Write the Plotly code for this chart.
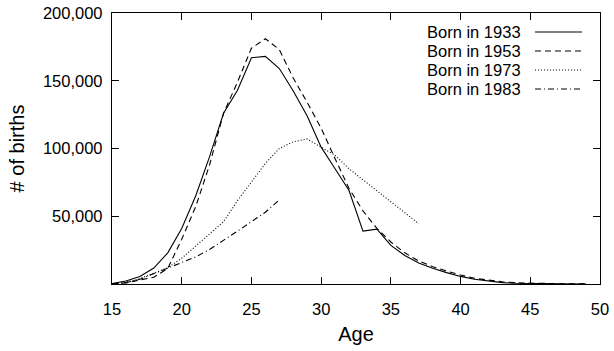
import plotly.graph_objects as go

# Data (births)
ages_1933 = list(range(15, 50))
births_1933 = [300, 2200, 5500, 11800, 23000, 41000, 65000, 94000, 126000, 143000,
               167000, 168000, 159000, 142500, 124000, 101000, 85000, 69000, 39000, 40500,
               28500, 21000, 15500, 11600, 8400, 5600, 3500, 2000, 1000, 500,
               300, 200, 100, 50, 20]

ages_1953 = list(range(15, 50))
births_1953 = [200, 800, 3000, 5000, 11500, 33000, 57000, 88000, 126000, 149000,
               174000, 181000, 173000, 152000, 134000, 115000, 92500, 70500, 54000, 41000,
               31000, 23000, 17000, 12800, 9600, 6600, 4200, 2700, 1600, 900,
               500, 300, 200, 100, 50]

ages_1973 = list(range(15, 38))
births_1973 = [100, 1200, 4000, 8000, 12000, 19000, 28000, 37000, 46000, 61500,
               75000, 89000, 100000, 105000, 107000, 101000, 95000, 85000, 77000, 69000,
               61000, 53000, 44500]

ages_1983 = list(range(15, 28))
births_1983 = [100, 1000, 3500, 7500, 11500, 15500, 20000, 25500, 32000, 39000,
               46000, 53000, 62000]

series_names = ["Born in 1933", "Born in 1953", "Born in 1973", "Born in 1983"]
x_ticks = [15, 20, 25, 30, 35, 40, 45, 50]
y_ticks = [50000, 100000, 150000, 200000]
y_tick_labels = ["50,000", "100,000", "150,000", "200,000"]

dashes = ["solid", "6px,4px", "1px,2px", "6px,3px,1px,3px"]
series = [(ages_1933, births_1933), (ages_1953, births_1953),
          (ages_1973, births_1973), (ages_1983, births_1983)]

FONT = "Liberation Sans, Arial, sans-serif"
FS = 16.5
fig = go.Figure()
for (xs, ys), name, d in zip(series, series_names, dashes):
    fig.add_trace(go.Scatter(x=xs, y=ys, mode="lines", name=name,
                             line=dict(color="black", width=1.1, dash=d),
                             showlegend=False))

# custom gnuplot-style legend: text right-aligned, line sample on the right
L, R, T, B = 111.7, 600.0, 13.0, 284.0
def px(x):
    return (x - L) / (R - L)
def py(y):
    return (B - y) / (B - T)

rows_y = [32, 51, 70, 89]
for name, d, ry in zip(series_names, dashes, rows_y):
    fig.add_annotation(x=px(523), y=py(ry), xref="paper", yref="paper",
                       text=name, showarrow=False, xanchor="right", yanchor="middle",
                       font=dict(family=FONT, size=FS, color="black"))
    fig.add_shape(type="line", xref="paper", yref="paper",
                  x0=px(535), x1=px(582), y0=py(ry), y1=py(ry),
                  line=dict(color="black", width=1.1, dash=d))

fig.update_layout(
    width=614, height=351,
    margin=dict(l=112, r=14, t=13, b=67),
    paper_bgcolor="white", plot_bgcolor="white",
    font=dict(family=FONT, size=FS, color="black"),
    xaxis=dict(range=[15, 50], tickvals=x_ticks, ticks="inside", ticklen=7,
               mirror="allticks", showline=True, linecolor="black", linewidth=1.3,
               showgrid=False, zeroline=False, tickcolor="black", automargin=False,
               ticklabelstandoff=10, ticklabeloverflow="allow",
               title=dict(text="Age", standoff=10)),
    yaxis=dict(range=[0, 200000], tickvals=y_ticks, ticktext=y_tick_labels,
               ticks="inside", ticklen=7, mirror="allticks", showline=True,
               linecolor="black", linewidth=1.3, showgrid=False, zeroline=False,
               tickcolor="black", automargin=False, ticklabelstandoff=5,
               ticklabeloverflow="allow",
               title=dict(text="# of births", standoff=12)),
)

fig.write_html("out.html",
               config={"displayModeBar": False},
               post_script="document.body.style.margin='0px';"
                           "document.body.style.overflow='hidden';")
